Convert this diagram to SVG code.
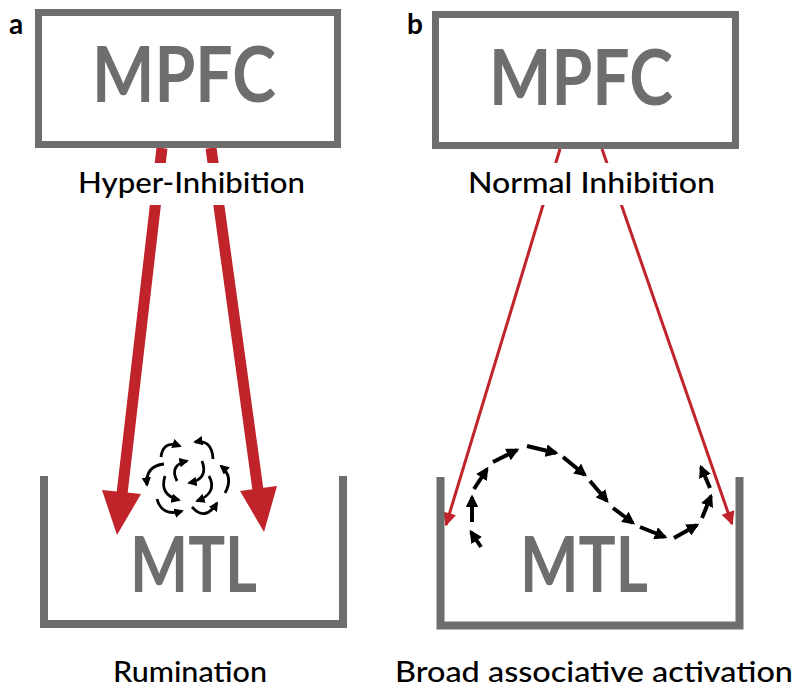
<svg xmlns="http://www.w3.org/2000/svg" width="800" height="693" viewBox="0 0 800 693">
<style>
.box{fill:none;stroke:#6e6e6e;stroke-width:7}
.bracket{fill:none;stroke:#6e6e6e;stroke-width:8}
.big{font-family:"Lato","Liberation Sans",sans-serif;font-size:76px;font-weight:bold;fill:#6e6e6e}
.lbl{font-family:"Lato","Liberation Sans",sans-serif;font-size:29px;font-weight:500;fill:#000}
.panel{font-family:"Lato","Liberation Sans",sans-serif;font-size:28px;font-weight:bold;fill:#000}
.thick{stroke:#c1232a;stroke-width:11;fill:none}
.thin{stroke:#c1232a;stroke-width:3;fill:none}
.red{fill:#c1232a}
.dash{stroke:#000;stroke-width:4;fill:none;marker-end:url(#bk)}
.curl{stroke:#000;stroke-width:2.8;fill:none;marker-end:url(#bks)}
</style>
<defs>
<marker id="bk" viewBox="0 0 10 10" refX="8" refY="5" markerWidth="3.2" markerHeight="3.2" orient="auto" markerUnits="strokeWidth"><path d="M0,0 L10,5 L0,10 z" fill="#000"/></marker>
<marker id="bks" viewBox="0 0 10 10" refX="8" refY="5" markerWidth="3.4" markerHeight="3.4" orient="auto" markerUnits="strokeWidth"><path d="M0,0 L10,5 L0,10 z" fill="#000"/></marker>
<marker id="rh" viewBox="0 0 10 10" refX="9" refY="5" markerWidth="5.5" markerHeight="4.5" orient="auto" markerUnits="strokeWidth"><path d="M0,0 L10,5 L0,10 z" fill="#c1232a"/></marker>
</defs>

<g id="connectors">
  <line class="thick" x1="162" y1="148" x2="122" y2="494"/>
  <polygon class="red" points="117,535 141,494 102,490"/>
  <line class="thick" x1="211" y1="148" x2="258" y2="490"/>
  <polygon class="red" points="264,532 277,486 240,491"/>
  <line class="thin" x1="560" y1="149" x2="446" y2="525" marker-end="url(#rh)"/>
  <line class="thin" x1="602" y1="149" x2="732" y2="524" marker-end="url(#rh)"/>
</g>

<rect x="72" y="163" width="240" height="42" fill="#fff"/>
<rect x="462" y="163" width="258" height="42" fill="#fff"/>

<g id="labels">
  <text class="panel" x="9" y="34">a</text>
  <text class="panel" x="407" y="34">b</text>
</g>

<g id="mpfc-a">
  <rect class="box" x="38.5" y="12.5" width="299" height="132"/>
  <text class="big" x="92" y="102" textLength="184" lengthAdjust="spacingAndGlyphs">MPFC</text>
</g>
<g id="mpfc-b">
  <rect class="box" x="435.5" y="14.5" width="300" height="131"/>
  <text class="big" x="489" y="105" textLength="184" lengthAdjust="spacingAndGlyphs">MPFC</text>
</g>

<g id="hyper">
  <text class="lbl" x="78" y="193" textLength="227" lengthAdjust="spacingAndGlyphs">Hyper-Inhibition</text>
</g>
<g id="normal">
  <text class="lbl" x="468" y="193" textLength="247" lengthAdjust="spacingAndGlyphs">Normal Inhibition</text>
</g>

<g id="mtl-a">
  <path class="bracket" d="M44,476 V624 H343 V476"/>
  <text class="big" x="130" y="592" textLength="127" lengthAdjust="spacingAndGlyphs">MTL</text>
</g>
<g id="mtl-b">
  <path class="bracket" d="M440.5,477 V625.5 H739.5 V477"/>
  <text class="big" x="520" y="592" textLength="128" lengthAdjust="spacingAndGlyphs">MTL</text>
</g>

<g id="rumination-swirl">
  <path class="curl" d="M161,457 Q163,440 180,446"/>
  <path class="curl" d="M213,459 Q212,439 195,442"/>
  <path class="curl" d="M164,464 Q145,466 147,485"/>
  <path class="curl" d="M225,493 Q234,477 221,466"/>
  <path class="curl" d="M177,481 Q169,465 187,461"/>
  <path class="curl" d="M202,461 Q209,479 189,483"/>
  <path class="curl" d="M165,476 Q159,495 179,500"/>
  <path class="curl" d="M209,476 Q218,493 197,501"/>
  <path class="curl" d="M157,499 Q162,517 182,511"/>
  <path class="curl" d="M192,507 Q205,522 217,503"/>
</g>

<g id="association-path">
  <line class="dash" x1="481" y1="547" x2="471" y2="532"/>
  <line class="dash" x1="472" y1="522" x2="472" y2="497"/>
  <line class="dash" x1="474" y1="489" x2="487" y2="469"/>
  <line class="dash" x1="493" y1="462" x2="517" y2="450"/>
  <line class="dash" x1="527" y1="446" x2="556" y2="453"/>
  <line class="dash" x1="563" y1="457" x2="585" y2="475"/>
  <line class="dash" x1="590" y1="481" x2="607" y2="501"/>
  <line class="dash" x1="613" y1="508" x2="633" y2="523"/>
  <line class="dash" x1="640" y1="527" x2="665" y2="537"/>
  <line class="dash" x1="674" y1="538" x2="697" y2="525"/>
  <line class="dash" x1="702" y1="518" x2="711" y2="496"/>
  <line class="dash" x1="710" y1="488" x2="701" y2="467"/>
</g>

<g id="rumination">
  <text class="lbl" x="113" y="682" textLength="154" lengthAdjust="spacingAndGlyphs">Rumination</text>
</g>
<g id="broad">
  <text class="lbl" x="395" y="682" textLength="398" lengthAdjust="spacingAndGlyphs">Broad associative activation</text>
</g>
</svg>
